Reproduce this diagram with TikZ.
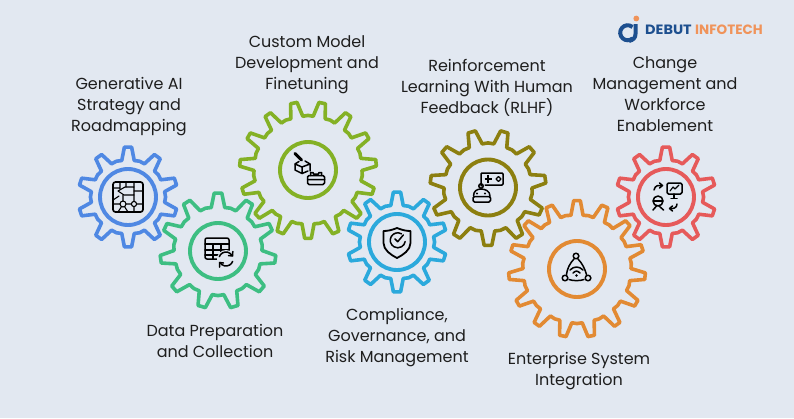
\documentclass[tikz,border=0pt]{standalone}
\usepackage{fontspec}
\setmainfont{Poppins}
\definecolor{bgc}{HTML}{E2E8F1}
\definecolor{cblue}{HTML}{4F88E3}
\definecolor{cgreen}{HTML}{3DBE82}
\definecolor{clime}{HTML}{84B125}
\definecolor{ccyan}{HTML}{2BA9DC}
\definecolor{colive}{HTML}{8C7F10}
\definecolor{corange}{HTML}{E28A33}
\definecolor{cred}{HTML}{E65A5A}
\definecolor{ctext}{HTML}{1E1E1E}
\definecolor{logob}{HTML}{1D4F8F}
\definecolor{logoo}{HTML}{F0935A}
\tikzset{
  gearline/.style={line width=3.6pt,line join=round,draw=#1},
  ring/.style={line width=3.9pt,draw=#1},
  label/.style={font=\fontsize{16}{21}\selectfont,text=ctext,align=center,inner sep=0pt},
  ico/.style={line width=1.5pt,draw=black,line join=round,line cap=round},
  thin ico/.style={line width=1.1pt,draw=black,line join=round,line cap=round},
  logotext/.style={font=\fontsize{13.5}{15}\bfseries\selectfont,inner sep=0pt,anchor=west},
}
% cx cy teeth outer root rotation colour
\newcommand{\mygear}[7]{%
  \begin{scope}[shift={(#1,#2)}]
    \pgfmathsetmacro{\st}{360/#3}
    \pgfmathsetmacro{\hb}{\st*0.27}
    \pgfmathsetmacro{\ht}{\st*0.115}
    \pgfmathsetmacro{\ast}{#6-\hb}
    \draw[gearline=#7] (\ast:#5)
      \foreach \k in {1,...,#3}{
        \pgfextra{\pgfmathsetmacro{\aa}{#6+(\k-1)*\st}}
        -- ({\aa-\hb}:#5) -- ({\aa-\ht}:#4) -- ({\aa+\ht}:#4) -- ({\aa+\hb}:#5)
        -- ({\aa+\st/2}:{#5+0.6})
      } -- cycle;
    \draw[ring=#7] (0,0) circle[radius=28pt];
  \end{scope}}
\begin{document}
\begin{tikzpicture}[x=1pt,y=-1pt]
\useasboundingbox (0,0) rectangle (794,418);
\fill[bgc] (0,0) rectangle (794,418);

\mygear{128}{197}{10}{50}{37}{-90}{cblue}
\mygear{218}{251}{11}{58}{44}{-90}{cgreen}
\mygear{308}{170}{15}{68.5}{54}{90}{clime}
\mygear{397}{242}{10}{50}{37}{-90}{ccyan}
\mygear{488}{187.5}{11}{58}{44}{90}{colive}
\mygear{577}{269}{15}{68.5}{54}{-90}{corange}
\mygear{666}{197}{10}{50}{37}{-90}{cred}

% labels
\node[label] (t1) at (129,106.8) {Generative AI\\Strategy and\\Roadmapping};
\node[label] (t2) at (215,341) {Data Preparation\\and Collection};
\node[label] (t3) at (307,64.8) {Custom Model\\Development and\\Finetuning};
\node[label] (t4) at (397,337.8) {Compliance,\\Governance, and\\Risk Management};
\node[label] (t5) at (487,88) {Reinforcement\\Learning With Human\\Feedback (RLHF)};
\node[label] (t6) at (579,371.2) {Enterprise System\\Integration};
\node[label] (t7) at (665,94.5) {Change\\Management and\\Workforce\\Enablement};

% icon 1: strategy chip
\begin{scope}[shift={(128,197)}]
  \draw[ico,rounded corners=2.5pt,line width=1.7pt] (-15,-15) rectangle (15,15);
  \draw[thin ico] (-10,-6) -- (-3,-10) -- (6,-10) -- (6,-2) -- (-4,-2) -- cycle;
  \draw[thin ico] (-5,7) circle[radius=3pt] (6,7) circle[radius=2.6pt];
  \draw[thin ico] (-8,-15) -- (-8,-8) (-2,-15) -- (-2,-10) (6,-15) -- (6,-10)
    (-15,-9) -- (-8,-9) (6,-6) -- (15,-6) (-15,3) -- (-9,-1)
    (-5,-2) -- (-5,4) (6,-2) -- (6,4.4) (-2,7) -- (3.4,7) (8.6,7) -- (15,7)
    (-15,7) -- (-8,7) (-10,15) -- (-6.5,9.6) (-3.5,9.6) -- (0,15) (6,9.6) -- (6,15);
\end{scope}

% icon 2: table with refresh
\begin{scope}[shift={(218,251)}]
  \draw[ico,rounded corners=2pt] (-13,-13) rectangle (11,8);
  \draw[ico] (-13,-7) -- (11,-7) (-13,-1) -- (11,-1) (-13,4) -- (11,4)
     (-5,-7) -- (-5,8) (3,-7) -- (3,8);
  \fill[bgc] (8,8) circle[radius=9pt];
  \draw[ico] (14,4.5) arc[start angle=30,end angle=160,radius=7pt];
  \draw[ico] (2,11.5) arc[start angle=210,end angle=340,radius=7pt];
  \draw[ico] (14.8,0.5) -- (14.5,5) -- (10.5,4.5) (1.5,16) -- (1.5,11.5) -- (5.5,12);
\end{scope}

% icon 3: cube, pen, tray
\begin{scope}[shift={(308,170)}]
  \draw[ico] (-13,-6) -- (-13,0) -- (-6,3.5) -- (0,1) (-6,3.5) -- (-6,-3) -- (-13,-6);
  \draw[ico] (-6,-3) -- (2,-6) -- (2,1);
  \draw[ico] (-13,-6) -- (-9,-8.5) (-3,-9) -- (2,-6);
  \draw[line width=3pt,line cap=round] (-13,-16.5) -- (-6.5,-10);
  \draw[ico,rounded corners=1.5pt] (-0.5,5.5) rectangle (16.5,14.5);
  \draw[ico] (-0.5,9.5) -- (16.5,9.5) (2.5,5.5) -- (2.5,2.5) -- (5,2.5) -- (5.5,4) -- (10.5,4) -- (11,2.5) -- (13.5,2.5) -- (13.5,5.5);
\end{scope}

% icon 4: shield
\begin{scope}[shift={(397,242)}]
  \draw[ico,line width=1.8pt] (0,-14) .. controls (-5,-12) and (-9,-11) .. (-13.5,-11)
    -- (-13.5,1) .. controls (-13.5,8) and (-6,13) .. (0,16)
    .. controls (6,13) and (13.5,8) .. (13.5,1) -- (13.5,-11)
    .. controls (9,-11) and (5,-12) .. (0,-14) -- cycle;
  \draw[ico] (4.5,-8.2) arc[start angle=60,end angle=350,radius=7.5pt];
  \draw[ico] (-2,-3) -- (0.7,-0.3) -- (6.3,-7);
\end{scope}

% icon 5: robot and game pad
\begin{scope}[shift={(488,187)}]
  \draw[ico,rounded corners=1pt] (-7,-1) -- (-7,-14) -- (15,-14) -- (15,-2) -- (-3,-2);
  \draw[ico,line width=2pt,line cap=butt] (-3.5,-8) -- (4,-8) (0,-12) -- (0,-4);
  \draw[thin ico] (8,-8) -- (10.5,-10.5) -- (13,-8) -- (10.5,-5.5) -- cycle;
  \draw[ico] (-7,-1) circle[radius=2.2pt];
  \draw[ico] (-14.5,9) .. controls (-14.5,4) and (-11,2) .. (-7,2)
     .. controls (-3,2) and (2,4) .. (2,9);
  \draw[ico,rounded corners=1.5pt] (-15,9.5) rectangle (2.5,15);
  \fill (-11,6.5) circle[radius=1.2pt] (-3,6.5) circle[radius=1.2pt];
  \draw[thin ico] (-14,9.5) -- (2,9.5);
\end{scope}

% icon 6: network
\begin{scope}[shift={(577,269)}]
  \draw[ico] (-1,-13) circle[radius=2.8pt] (-12,9) circle[radius=2.8pt] (11,9) circle[radius=2.8pt];
  \draw[ico] (-3,-10) .. controls (-7,-6) and (-10,0) .. (-10.5,5.5);
  \draw[ico] (1,-10) .. controls (5,-6) and (8,0) .. (9.5,5.5);
  \draw[ico] (-8,10.5) .. controls (-4,12) and (3,12) .. (7,10.5);
  \draw[ico] (-7,1) .. controls (-3,-3) and (2,-3) .. (6,1);
  \draw[ico] (-4,4) .. controls (-1.5,1.5) and (0.5,1.5) .. (3,4);
  \fill (-0.5,6.5) circle[radius=1.4pt];
\end{scope}

% icon 7: change management
\begin{scope}[shift={(666,197)}]
  \draw[ico,rounded corners=1.5pt] (1,-14) rectangle (16,-3);
  \draw[ico] (8,-3) -- (8,1) (5,1.5) -- (11,1.5);
  \draw[thin ico] (4,-6) -- (7,-10) -- (9,-8) -- (13,-12);
  \draw[ico] (-8,4) circle[radius=5pt];
  \draw[thin ico] (-12.8,4) -- (-3.2,4);
  \draw[ico] (-13,13) -- (-9.5,9) (-7,9) -- (-2.5,13);
  \draw[ico] (-12,-7) .. controls (-11,-12) and (-7,-12) .. (-4,-11.5);
  \draw[ico] (-6.5,-14) -- (-3.5,-11.5) -- (-6.5,-9);
  \draw[ico] (11,7) .. controls (11,11) and (7,12) .. (4,11.5);
  \draw[ico] (6.5,9) -- (3.5,11.5) -- (6.5,14);
\end{scope}

% logo
\draw[logob,line width=4pt] (632.5,27) arc[start angle=50,end angle=310,radius=7.5pt];
\draw[logob,line width=4pt] (635.5,24) -- (635.5,34) .. controls (635.5,38) and (633,40) .. (629,41);
\fill[logoo] (636.3,18.5) circle[radius=2.9pt];
\node[logotext,text=logob,xscale=1.07] (l1) at (645,30) {DEBUT};
\node[logotext,text=logoo] (l2) at (695,30) {INFOTECH};
\end{tikzpicture}
\end{document}
